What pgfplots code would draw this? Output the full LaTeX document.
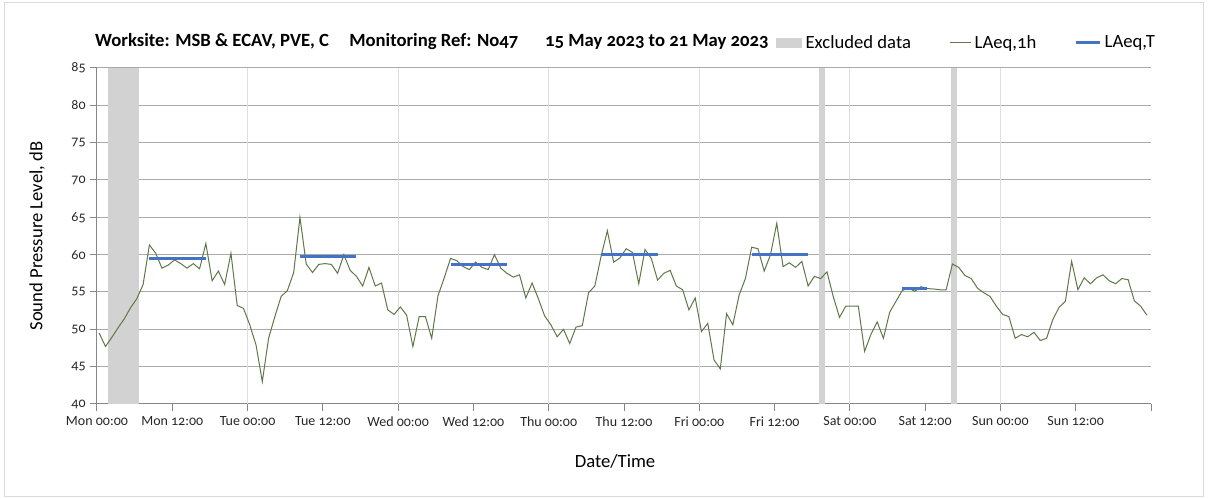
\documentclass[border=0pt]{standalone}
\usepackage{fontspec}
\setmainfont{Carlito}[Numbers=OldStyle]
\usepackage{pgfplots}
\usepackage{pgfplotstable}
\pgfplotsset{compat=1.18}
\definecolor{lgreen}{RGB}{94,120,72}
\definecolor{lblue}{RGB}{68,114,196}
\definecolor{band}{RGB}{210,210,210}
\definecolor{hgrid}{RGB}{170,170,170}
\definecolor{vgrid}{RGB}{222,222,222}
\definecolor{axgray}{RGB}{134,134,134}
\definecolor{frame}{RGB}{217,217,217}

\pgfplotstableread{
k v
0 49.5
1 47.7
2 48.9
3 50.2
4 51.4
5 52.9
6 54.1
7 56.0
8 61.3
9 60.2
10 58.2
11 58.6
12 59.3
13 58.8
14 58.2
15 58.8
16 58.1
17 61.5
18 56.5
19 57.8
20 56.0
21 60.2
22 53.2
23 52.8
24 50.6
25 47.9
26 43.0
27 48.8
28 51.7
29 54.4
30 55.2
31 57.6
32 65.0
33 58.75
34 57.6
35 58.7
36 58.8
37 58.7
38 57.5
39 60.0
40 57.9
41 57.1
42 55.8
43 58.3
44 55.8
45 56.2
46 52.6
47 52.0
48 53.0
49 51.9
50 47.7
51 51.7
52 51.7
53 48.8
54 54.5
55 56.9
56 59.5
57 59.2
58 58.4
59 58.0
60 59.0
61 58.3
62 58.0
63 60.0
64 58.2
65 57.5
66 57.0
67 57.3
68 54.2
69 56.2
70 54.1
71 51.8
72 50.6
73 49.0
74 50.0
75 48.1
76 50.3
77 50.5
78 54.9
79 55.8
80 59.8
81 63.2
82 59.0
83 59.55
84 60.8
85 60.3
86 56.1
87 60.7
88 59.5
89 56.6
90 57.5
91 57.9
92 55.8
93 55.3
94 52.6
95 54.2
96 49.7
97 50.8
98 45.9
99 44.7
100 52.1
101 50.6
102 54.6
103 56.8
104 61.0
105 60.8
106 57.8
107 60.0
108 64.2
109 58.4
110 58.9
111 58.3
112 59.1
113 55.8
114 57.1
115 56.8
116 57.7
117 54.4
118 51.6
119 53.1
120 53.1
121 53.1
122 47.05
123 49.3
124 51.0
125 48.8
126 52.3
127 53.75
128 55.2
129 55.5
130 55.1
131 55.7
132 55.45
133 55.4
134 55.3
135 55.3
136 58.75
137 58.3
138 57.2
139 56.8
140 55.5
141 54.9
142 54.4
143 53.1
144 52.0
145 51.7
146 48.8
147 49.3
148 49.0
149 49.6
150 48.5
151 48.8
152 51.3
153 52.95
154 53.75
155 59.1
156 55.3
157 56.9
158 56.1
159 56.9
160 57.3
161 56.5
162 56.1
163 56.8
164 56.65
165 53.8
166 53.1
167 51.9
}\laeq

\begin{document}
\begin{tikzpicture}
\begin{axis}[
  name=ax,
  scale only axis,
  width=790.5pt, height=252pt,
  xmin=0, xmax=168, ymin=40, ymax=85,
  axis x line*=bottom, axis y line*=left,
  axis line style={draw=axgray, line width=0.75pt, -},
  ytick={40,45,...,85},
  ymajorgrids,
  major grid style={hgrid, line width=0.75pt},
  xtick={0,12,...,168},
  xticklabels={Mon 00:00,Mon 12:00,Tue 00:00,Tue 12:00,Wed 00:00,Wed 12:00,Thu 00:00,Thu 12:00,Fri 00:00,Fri 12:00,Sat 00:00,Sat 12:00,Sun 00:00,Sun 12:00,{}},
  extra x ticks={24,48,72,96,120,144},
  extra x tick labels={},
  extra x tick style={grid=major, major grid style={vgrid, line width=0.75pt}, major tick length=0pt},
  tick align=outside,
  major tick length=5pt,
  tick style={axgray, line width=0.75pt},
  /pgf/number format/assume math mode=true,
  tick label style={font=\fontsize{10.5}{12}\selectfont, text=black!85},
  xticklabel style={yshift=-1pt},
  xlabel={Date/Time},
  ylabel={Sound Pressure Level, dB},
  every axis x label/.style={at={(axis description cs:0.4915,-0.1696)}, anchor=center, font=\fontsize{14}{16}\selectfont},
  every axis y label/.style={at={(axis description cs:-0.0569,0.5)}, rotate=90, anchor=center, font=\fontsize{14}{16}\selectfont},
  legend style={at={(axis description cs:0.6442,1.0744)}, anchor=west, draw=none, fill=none, inner sep=0pt, font=\fontsize{14}{16}\selectfont, nodes={inner xsep=2.5pt, inner ysep=1pt}, /tikz/every even column/.append style={column sep=26pt}},
  legend columns=3,
  legend cell align=left,
  clip=false,
]
\addplot[fill=band, draw=none, legend image code/.code={\fill[band] (0pt,-3.75pt) rectangle (19.5pt,3.75pt);}] coordinates {(1.8,40) (1.8,85) (6.75,85) (6.75,40)};
\addlegendentry{Excluded data}
\addplot[forget plot, fill=band, draw=none] coordinates {(115.15,40) (115.15,85) (116.0,85) (116.0,40)};
\addplot[forget plot, fill=band, draw=none] coordinates {(136.2,40) (136.2,85) (137.0,85) (137.0,40)};
\addplot[lgreen, line width=0.75pt, mark=none, legend image code/.code={\draw[lgreen, line width=0.75pt] (0pt,0pt) -- (16pt,0pt);}] table[x expr=\thisrow{k}+0.35, y=v] {\laeq};
\addlegendentry{LAeq,1h}
\addplot[lblue, line width=2.25pt, mark=none, unbounded coords=jump, legend image code/.code={\draw[lblue, line width=2.25pt] (0pt,0pt) -- (18pt,0pt);}] coordinates {
(8.35,59.46) (17.35,59.46) (nan,nan)
(32.35,59.73) (41.35,59.73) (nan,nan)
(56.35,58.66) (65.35,58.66) (nan,nan)
(80.35,60.0) (89.35,60.0) (nan,nan)
(104.35,60.0) (113.35,60.0) (nan,nan)
(128.35,55.45) (132.35,55.45)
};
\addlegendentry{LAeq,T}
\node[anchor=west, inner sep=0pt, font=\bfseries\fontsize{14}{16}\selectfont] at (axis description cs:-0.002,1.080) {Worksite: MSB \& ECAV, PVE, C\hspace{12pt} Monitoring Ref: No47\hspace{17pt} 15 May 2023 to 21 May 2023};
\end{axis}
\draw[frame, line width=0.75pt] ([shift={(-69pt,-69.75pt)}]ax.south west) rectangle ([shift={(829.5pt,300.75pt)}]ax.south west);
\pgfresetboundingbox
\path[use as bounding box] ([shift={(-72.75pt,-71.25pt)}]ax.south west) rectangle ([shift={(833.25pt,303pt)}]ax.south west);
\end{tikzpicture}
\end{document}
